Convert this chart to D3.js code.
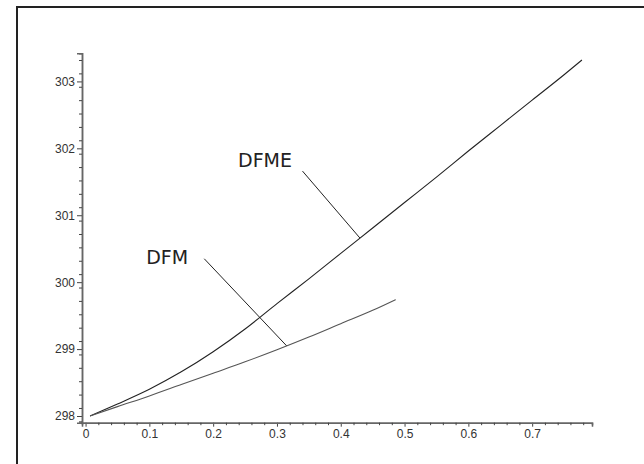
<!DOCTYPE html>
<html>
<head>
<meta charset="utf-8">
<script src="https://cdn.jsdelivr.net/npm/d3@7"></script>
<style>
  html, body { margin: 0; background: #fff; overflow: hidden; }
  svg { display: block; }
  .label { font-family: "DejaVu Sans", sans-serif; font-size: 19px; fill: #222; }
</style>
</head>
<body>
<svg width="644" height="464"></svg>
<script>
// values
const xs_dfme = [0.007, 0.05, 0.1, 0.15, 0.2, 0.25, 0.3, 0.35, 0.4, 0.45, 0.5, 0.55, 0.6, 0.65, 0.7, 0.75, 0.778];
const ys_dfme = [298.00, 298.18, 298.40, 298.66, 298.96, 299.30, 299.68, 300.05, 300.43, 300.81, 301.19, 301.57, 301.96, 302.34, 302.72, 303.10, 303.32];
const xs_dfm = [0.007, 0.05, 0.1, 0.15, 0.2, 0.25, 0.3, 0.35, 0.4, 0.45, 0.486];
const ys_dfm = [298.00, 298.14, 298.30, 298.47, 298.64, 298.81, 298.99, 299.18, 299.38, 299.58, 299.74];

const xTicks = [0, 0.1, 0.2, 0.3, 0.4, 0.5, 0.6, 0.7];
const yTicks = [298, 299, 300, 301, 302, 303];

// annotations: label text, label anchor, pointer start, pointer end (data units)
const labels = ["DFME", "DFM"];
const labelPos = [[0.239, 301.72], [0.095, 300.27]];
const pointerFrom = [[0.340, 301.66], [0.186, 300.35]];
const pointerTo = [[0.430, 300.66], [0.315, 299.05]];

const svg = d3.select("svg");

// frame (only top and left edges fall inside the window)
svg.append("path")
  .attr("d", "M17,470V7H650")
  .attr("fill", "none")
  .attr("stroke", "#222")
  .attr("stroke-width", 2);

const x = d3.scaleLinear().domain([-0.0056, 0.7938]).range([82, 592]);
const y = d3.scaleLinear().domain([297.9, 303.42]).range([422.7, 53.3]);

const minorX = d3.range(0, 0.7901, 0.02).filter(v => Math.abs(v * 10 - Math.round(v * 10)) > 1e-6);
const minorY = d3.range(297.92, 303.41, 0.2).map(v => +v.toFixed(2)).filter(v => Math.abs(v - Math.round(v)) > 1e-6);

// y axis
svg.append("g")
  .attr("transform", "translate(" + x(-0.0056) + ",0)")
  .call(d3.axisLeft(y).tickValues(yTicks).tickSize(5).tickPadding(2).tickFormat(d3.format("d")));
svg.append("g")
  .attr("transform", "translate(" + x(-0.0056) + ",0)")
  .call(d3.axisLeft(y).tickValues(minorY).tickSize(3).tickFormat(""));

// x axis
svg.append("g")
  .attr("transform", "translate(0," + y(297.9) + ")")
  .call(d3.axisBottom(x).tickValues(xTicks).tickSize(4).tickPadding(3)
    .tickFormat(d => d === 0 ? "0" : d3.format(".1f")(d)));
svg.append("g")
  .attr("transform", "translate(0," + y(297.9) + ")")
  .call(d3.axisBottom(x).tickValues(minorX).tickSize(2.5).tickFormat(""));

svg.selectAll(".domain").attr("stroke", "#666").attr("stroke-width", 1.5);
svg.selectAll(".tick line").attr("stroke", "#444");
svg.selectAll(".tick text")
  .attr("fill", "#333")
  .style("font-family", "'Liberation Sans', Arial, sans-serif")
  .style("font-size", "12px");

// curves
const line = d3.line()
  .x(d => x(d[0]))
  .y(d => y(d[1]))
  .curve(d3.curveMonotoneX);

svg.append("path")
  .datum(d3.zip(xs_dfme, ys_dfme))
  .attr("d", line)
  .attr("fill", "none")
  .attr("stroke", "#222")
  .attr("stroke-width", 1.1);

svg.append("path")
  .datum(d3.zip(xs_dfm, ys_dfm))
  .attr("d", line)
  .attr("fill", "none")
  .attr("stroke", "#555")
  .attr("stroke-width", 1.1);

// labels and pointers
labels.forEach(function(t, i) {
  svg.append("line")
    .attr("x1", x(pointerFrom[i][0])).attr("y1", y(pointerFrom[i][1]))
    .attr("x2", x(pointerTo[i][0])).attr("y2", y(pointerTo[i][1]))
    .attr("stroke", "#222")
    .attr("stroke-width", 1);
  svg.append("text")
    .attr("class", "label")
    .attr("x", x(labelPos[i][0]))
    .attr("y", y(labelPos[i][1]))
    .text(t);
});
</script>
</body>
</html>
